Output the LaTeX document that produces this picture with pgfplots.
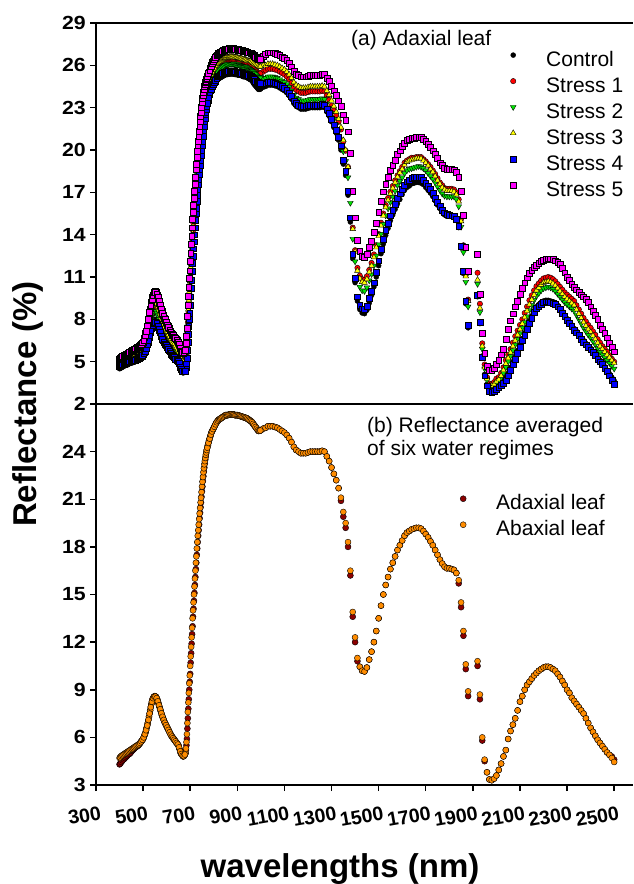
\documentclass[border=0pt]{standalone}
\usepackage{pgfplots}
\pgfplotsset{compat=1.18}
\usepackage{pgfplotstable}
\usepackage{fontspec}
\setmainfont{Liberation Sans}
\newfontfamily\tickfont[FakeStretch=1.12]{Liberation Sans Bold}
\newfontfamily\xtickfont{Liberation Sans Bold}
\newfontfamily\labfont{Liberation Sans Bold}
\definecolor{cRed}{RGB}{255,0,0}
\definecolor{cGreen}{RGB}{0,230,0}
\definecolor{cYellow}{RGB}{255,255,0}
\definecolor{cBlue}{RGB}{0,0,255}
\definecolor{cMag}{RGB}{255,0,255}
\definecolor{cDark}{RGB}{139,0,0}
\definecolor{cOrange}{RGB}{255,140,0}

\pgfplotstableread{
wl C S1 S2 S3 S4 S5
400 4.5 4.9 4.7 5.0 4.7 5.2
405 4.55 4.95 4.75 5.05 4.75 5.3
410 4.6 5.0 4.8 5.1 4.8 5.35
415 4.65 5.05 4.85 5.15 4.85 5.4
420 4.7 5.1 4.9 5.2 4.9 5.45
425 4.75 5.15 4.95 5.25 4.9 5.5
430 4.75 5.2 5.0 5.3 4.95 5.55
435 4.8 5.25 5.05 5.35 5.0 5.6
440 4.85 5.3 5.05 5.4 5.0 5.65
445 4.9 5.35 5.1 5.45 5.0 5.7
450 4.9 5.4 5.15 5.5 5.05 5.75
455 4.95 5.45 5.2 5.55 5.1 5.8
460 4.95 5.5 5.25 5.6 5.1 5.85
465 5.0 5.55 5.3 5.65 5.1 5.9
470 5.05 5.6 5.3 5.7 5.15 5.95
475 5.1 5.6 5.35 5.75 5.2 6.0
480 5.1 5.65 5.4 5.75 5.25 6.05
485 5.2 5.75 5.45 5.8 5.3 6.1
490 5.25 5.8 5.5 5.9 5.35 6.2
495 5.3 5.9 5.6 6.0 5.4 6.3
500 5.4 6.0 5.7 6.1 5.5 6.4
505 5.6 6.2 5.9 6.35 5.65 6.7
510 5.8 6.45 6.15 6.6 5.8 7.0
515 6.05 6.75 6.45 6.95 6.05 7.35
520 6.35 7.1 6.8 7.3 6.35 7.75
525 6.75 7.55 7.2 7.75 6.7 8.25
530 7.15 8.0 7.6 8.2 7.05 8.75
535 7.5 8.4 8.0 8.6 7.4 9.2
540 7.8 8.75 8.35 9.0 7.7 9.6
545 7.95 8.9 8.5 9.2 7.8 9.85
550 8.0 9.0 8.6 9.3 7.8 10.0
555 7.95 8.95 8.55 9.2 7.75 9.9
560 7.85 8.8 8.4 9.05 7.65 9.7
565 7.65 8.55 8.15 8.8 7.45 9.45
570 7.4 8.25 7.9 8.5 7.2 9.15
575 7.15 8.0 7.65 8.25 6.95 8.85
580 6.9 7.75 7.4 8.0 6.7 8.55
585 6.7 7.5 7.2 7.75 6.5 8.3
590 6.55 7.3 7.0 7.55 6.35 8.1
595 6.4 7.15 6.85 7.4 6.2 7.9
600 6.3 7.0 6.7 7.2 6.1 7.7
605 6.1 6.8 6.5 7.0 5.95 7.5
610 5.95 6.65 6.35 6.85 5.8 7.35
615 5.8 6.5 6.2 6.7 5.7 7.2
620 5.65 6.3 6.05 6.5 5.55 7.05
625 5.5 6.2 5.9 6.4 5.45 6.9
630 5.4 6.1 5.8 6.3 5.35 6.8
635 5.3 5.95 5.7 6.2 5.25 6.7
640 5.2 5.85 5.6 6.05 5.15 6.6
645 5.1 5.75 5.5 5.95 5.1 6.5
650 4.95 5.6 5.35 5.8 5.0 6.35
655 4.7 5.35 5.1 5.55 4.75 6.1
660 4.4 5.05 4.8 5.25 4.5 5.8
665 4.3 4.9 4.7 5.1 4.4 5.7
670 4.2 4.8 4.6 5.0 4.3 5.6
675 4.3 4.85 4.65 5.05 4.3 5.7
680 4.5 5.0 4.8 5.2 4.4 5.9
682 4.7 5.35 5.1 5.55 4.6 6.3
684 5.05 5.8 5.55 6.0 4.85 6.8
686 5.45 6.3 6.05 6.6 5.25 7.4
688 6.1 7.05 6.8 7.35 5.8 8.2
690 6.7 7.8 7.5 8.1 6.4 9.0
692 7.3 8.4 8.1 8.7 6.95 9.65
694 7.85 9.05 8.75 9.35 7.5 10.3
696 8.45 9.65 9.35 9.95 8.0 10.9
698 8.9 10.2 9.9 10.5 8.45 11.45
700 9.5 10.8 10.5 11.1 9.0 12.1
702 10.1 11.4 11.1 11.7 9.6 12.7
704 10.7 12.0 11.7 12.3 10.2 13.3
706 11.3 12.6 12.3 12.9 10.8 13.9
708 11.9 13.2 12.9 13.5 11.4 14.5
710 12.5 13.8 13.5 14.1 12.0 15.1
712 13.0 14.3 14.0 14.6 12.5 15.6
714 13.5 14.8 14.5 15.1 13.0 16.1
716 14.0 15.3 15.0 15.6 13.5 16.6
718 14.5 15.8 15.5 16.1 14.0 17.1
720 15.0 16.3 16.0 16.6 14.5 17.6
722 15.5 16.8 16.5 17.1 15.0 18.1
724 16.0 17.3 17.0 17.6 15.5 18.6
726 16.4 17.7 17.4 18.0 15.9 19.0
728 16.9 18.2 17.9 18.5 16.4 19.5
730 17.3 18.6 18.3 18.9 16.8 19.9
732 17.7 19.0 18.7 19.3 17.2 20.3
734 18.05 19.35 19.05 19.65 17.55 20.65
736 18.4 19.7 19.4 20.0 17.9 21.0
738 18.75 20.05 19.75 20.35 18.25 21.35
740 19.1 20.4 20.1 20.7 18.6 21.7
742 19.45 20.75 20.45 21.05 18.95 22.05
744 19.8 21.1 20.8 21.4 19.3 22.4
746 20.1 21.4 21.1 21.7 19.6 22.7
748 20.45 21.75 21.45 22.05 19.95 23.05
750 20.8 22.1 21.8 22.4 20.3 23.4
752 21.1 22.4 22.1 22.7 20.65 23.65
754 21.4 22.65 22.35 22.95 21.0 23.9
756 21.7 22.95 22.65 23.25 21.4 24.1
758 21.95 23.15 22.85 23.45 21.7 24.3
760 22.2 23.4 23.1 23.7 22.0 24.5
762 22.4 23.6 23.3 23.85 22.25 24.65
764 22.6 23.75 23.45 24.0 22.5 24.8
766 22.8 23.95 23.65 24.2 22.7 24.9
768 22.95 24.05 23.75 24.3 22.9 25.0
770 23.1 24.2 23.9 24.4 23.1 25.1
775 23.45 24.45 24.2 24.7 23.5 25.35
780 23.75 24.75 24.45 24.95 23.95 25.55
785 24.0 25.0 24.7 25.2 24.2 25.8
790 24.25 25.25 24.95 25.45 24.45 26.05
795 24.4 25.4 25.1 25.6 24.6 26.2
800 24.55 25.55 25.25 25.75 24.75 26.35
805 24.7 25.7 25.4 25.9 24.9 26.5
810 24.85 25.85 25.55 26.05 25.05 26.65
815 24.95 25.95 25.65 26.15 25.15 26.75
820 25.05 26.05 25.75 26.25 25.25 26.85
825 25.1 26.1 25.8 26.3 25.3 26.9
830 25.15 26.15 25.85 26.35 25.35 26.95
835 25.2 26.2 25.9 26.4 25.4 27.0
840 25.25 26.25 25.95 26.45 25.45 27.05
845 25.3 26.3 26.0 26.5 25.5 27.1
850 25.35 26.35 26.05 26.55 25.55 27.15
855 25.35 26.35 26.05 26.55 25.55 27.15
860 25.35 26.35 26.05 26.55 25.55 27.15
865 25.4 26.4 26.1 26.6 25.6 27.2
870 25.4 26.4 26.1 26.6 25.6 27.2
875 25.4 26.4 26.1 26.6 25.6 27.2
880 25.4 26.4 26.1 26.6 25.6 27.2
885 25.4 26.4 26.1 26.6 25.6 27.2
890 25.35 26.35 26.05 26.55 25.55 27.15
895 25.35 26.35 26.05 26.55 25.55 27.15
900 25.35 26.35 26.05 26.55 25.55 27.15
905 25.3 26.3 26.05 26.5 25.5 27.1
910 25.3 26.3 26.0 26.5 25.5 27.1
915 25.3 26.3 25.95 26.5 25.5 27.1
920 25.25 26.25 25.95 26.45 25.45 27.05
925 25.2 26.2 25.9 26.4 25.4 27.0
930 25.2 26.2 25.9 26.4 25.4 27.0
935 25.2 26.2 25.9 26.4 25.4 27.0
940 25.15 26.15 25.85 26.35 25.35 26.95
945 25.1 26.1 25.8 26.3 25.3 26.9
950 25.05 26.05 25.75 26.3 25.3 26.9
955 25.0 26.0 25.7 26.3 25.25 26.9
960 24.95 25.95 25.65 26.3 25.2 26.85
965 24.85 25.85 25.55 26.2 25.1 26.8
970 24.7 25.8 25.5 26.15 25.05 26.7
975 24.6 25.7 25.4 26.1 24.95 26.6
980 24.5 25.6 25.3 26.05 24.85 26.55
985 24.4 25.5 25.2 26.0 24.8 26.5
990 24.3 25.4 25.1 25.9 24.7 26.4
995 24.3 25.4 25.1 25.9 24.7 26.4
1000 24.35 25.45 25.15 25.95 24.75 26.45
1010 24.45 25.55 25.1 26.0 24.75 26.65
1020 24.5 25.65 25.1 26.0 24.7 26.8
1030 24.6 25.75 25.2 26.1 24.8 26.9
1040 24.6 25.75 25.2 26.1 24.8 26.9
1050 24.6 25.75 25.2 26.1 24.8 26.9
1060 24.55 25.7 25.15 26.05 24.75 26.85
1070 24.5 25.65 25.1 26.0 24.7 26.8
1080 24.4 25.55 25.0 25.9 24.6 26.7
1090 24.3 25.45 24.9 25.8 24.5 26.6
1100 24.2 25.35 24.8 25.7 24.4 26.5
1110 24.05 25.2 24.65 25.55 24.25 26.35
1120 23.85 25.0 24.45 25.35 24.05 26.15
1130 23.6 24.75 24.2 25.1 23.8 25.9
1140 23.3 24.45 23.9 24.8 23.5 25.6
1150 23.1 24.25 23.7 24.6 23.3 25.4
1160 23.0 24.15 23.6 24.5 23.2 25.3
1170 22.9 24.05 23.5 24.4 23.1 25.2
1180 22.9 24.05 23.5 24.4 23.1 25.2
1190 22.9 24.05 23.5 24.4 23.1 25.2
1200 22.95 24.1 23.55 24.45 23.15 25.25
1210 23.0 24.15 23.6 24.5 23.2 25.3
1220 23.0 24.15 23.6 24.5 23.2 25.3
1230 23.0 24.15 23.6 24.5 23.2 25.3
1240 23.0 24.15 23.6 24.5 23.2 25.3
1250 23.0 24.15 23.6 24.5 23.2 25.3
1260 23.05 24.2 23.65 24.55 23.25 25.35
1270 23.0 24.15 23.6 24.5 23.2 25.35
1280 22.7 23.85 23.3 24.2 22.9 25.1
1290 22.4 23.55 23.0 23.9 22.6 24.85
1300 22.0 23.15 22.6 23.5 22.2 24.5
1310 21.6 22.8 22.2 23.1 21.8 24.2
1320 21.2 22.45 21.8 22.7 21.4 23.9
1330 20.7 22.0 21.35 22.2 20.9 23.5
1340 20.0 21.45 20.75 21.6 20.3 23.1
1350 19.0 20.6 19.9 20.7 19.3 22.5
1360 18.2 19.95 19.2 20.0 18.5 22.1
1370 16.8 18.8 18.05 18.8 17.1 21.3
1380 14.9 17.05 16.25 17.0 15.2 19.8
1390 12.3 14.5 13.7 14.4 12.6 17.1
1400 10.6 12.9 12.1 12.8 10.9 15.2
1410 9.3 11.65 10.85 11.45 9.6 13.6
1420 8.7 11.1 10.3 10.9 9.0 12.85
1430 8.45 10.85 10.05 10.65 8.75 12.5
1440 8.4 10.8 10.0 10.6 8.7 12.4
1450 8.65 11.05 10.25 10.85 8.95 12.6
1460 9.15 11.5 10.75 11.35 9.5 13.1
1470 9.7 12.0 11.2 11.8 10.0 13.55
1480 10.3 12.6 11.8 12.4 10.6 14.15
1490 11.0 13.25 12.5 13.1 11.35 14.8
1500 11.8 14.05 13.3 13.9 12.15 15.6
1510 12.65 14.85 14.05 14.65 12.95 16.35
1520 13.35 15.5 14.75 15.35 13.7 17.05
1530 13.95 16.1 15.35 15.95 14.3 17.6
1540 14.45 16.6 15.85 16.45 14.8 18.1
1550 15.0 17.05 16.3 16.9 15.35 18.55
1560 15.4 17.45 16.7 17.3 15.75 18.95
1570 15.8 17.85 17.1 17.7 16.15 19.3
1580 16.2 18.2 17.5 18.1 16.6 19.7
1590 16.5 18.5 17.8 18.4 16.9 19.95
1600 16.85 18.8 18.05 18.65 17.2 20.25
1610 17.15 19.1 18.35 18.95 17.5 20.5
1620 17.35 19.25 18.55 19.15 17.75 20.7
1630 17.45 19.35 18.65 19.25 17.85 20.75
1640 17.6 19.45 18.7 19.3 18.0 20.85
1650 17.65 19.45 18.75 19.35 18.05 20.85
1660 17.7 19.5 18.8 19.4 18.1 20.9
1670 17.7 19.5 18.85 19.4 18.1 20.9
1680 17.65 19.5 18.8 19.4 18.05 20.9
1690 17.55 19.35 18.7 19.25 17.85 20.75
1700 17.35 19.2 18.55 19.1 17.65 20.6
1710 17.15 19.0 18.35 18.9 17.45 20.4
1720 16.95 18.8 18.15 18.65 17.2 20.2
1730 16.7 18.55 17.95 18.45 16.95 19.95
1740 16.4 18.3 17.7 18.15 16.6 19.7
1750 16.1 18.0 17.4 17.85 16.3 19.4
1760 15.85 17.7 17.15 17.6 16.0 19.1
1770 15.6 17.5 16.9 17.35 15.75 18.9
1780 15.4 17.3 16.75 17.2 15.55 18.7
1790 15.3 17.25 16.7 17.1 15.45 18.65
1800 15.3 17.25 16.7 17.1 15.4 18.65
1810 15.3 17.25 16.7 17.1 15.35 18.65
1820 15.25 17.2 16.7 17.05 15.3 18.6
1830 15.0 17.0 16.5 16.85 15.1 18.45
1840 14.5 16.5 16.0 16.35 14.6 18.1
1850 13.1 15.1 14.55 14.95 13.2 17.1
1860 11.25 13.25 12.75 13.15 11.4 15.4
1870 9.1 11.15 10.65 11.05 9.3 13.1
1880 7.4 9.4 8.9 9.3 7.6 11.4
1920 9.6 11.3 10.5 10.8 9.7 12.6
1930 7.7 9.1 8.5 8.8 7.8 9.8
1940 5.4 6.3 5.9 6.1 5.3 7.0
1950 4.1 4.8 4.5 4.6 4.0 5.6
1960 3.4 3.9 3.7 3.8 3.3 4.7
1970 3.0 3.45 3.2 3.3 2.9 4.4
1980 2.95 3.4 3.15 3.3 2.85 4.4
1990 3.0 3.55 3.3 3.4 2.9 4.55
2000 3.1 3.8 3.5 3.6 3.05 4.8
2010 3.3 3.9 3.6 3.75 3.2 5.1
2020 3.5 4.2 3.85 4.0 3.35 5.5
2030 3.7 4.6 4.2 4.4 3.5 5.9
2040 3.9 5.1 4.6 4.85 3.7 6.6
2050 4.2 5.5 5.0 5.25 4.0 7.3
2060 4.6 5.9 5.4 5.65 4.4 7.9
2070 5.0 6.35 5.8 6.1 4.8 8.4
2080 5.35 6.8 6.2 6.5 5.15 8.9
2090 5.8 7.2 6.6 6.9 5.6 9.3
2100 6.2 7.6 7.0 7.3 6.0 9.8
2110 6.65 8.0 7.4 7.7 6.5 10.2
2120 7.05 8.45 7.8 8.15 6.9 10.6
2130 7.45 8.9 8.2 8.6 7.3 10.95
2140 7.9 9.35 8.65 9.05 7.75 11.25
2150 8.25 9.7 9.0 9.4 8.1 11.5
2160 8.6 10.05 9.35 9.75 8.5 11.7
2170 8.9 10.35 9.65 10.05 8.8 11.85
2180 9.05 10.55 9.85 10.25 8.95 12.0
2190 9.2 10.75 10.05 10.45 9.1 12.1
2200 9.3 10.9 10.2 10.6 9.2 12.2
2210 9.35 10.95 10.25 10.65 9.25 12.25
2220 9.35 11.0 10.3 10.7 9.25 12.3
2230 9.3 10.95 10.25 10.65 9.2 12.3
2240 9.25 10.85 10.15 10.55 9.15 12.25
2250 9.15 10.7 10.0 10.4 9.05 12.15
2260 9.0 10.5 9.8 10.2 8.9 12.05
2270 8.8 10.3 9.6 10.0 8.7 11.9
2280 8.55 10.1 9.4 9.8 8.45 11.6
2290 8.3 9.9 9.2 9.6 8.2 11.3
2300 8.05 9.75 9.05 9.45 7.95 11.0
2310 7.8 9.6 8.9 9.3 7.7 10.75
2320 7.6 9.45 8.75 9.15 7.5 10.5
2330 7.35 9.3 8.6 9.0 7.25 10.3
2340 7.15 9.0 8.3 8.7 7.05 10.1
2350 6.95 8.7 8.0 8.4 6.85 9.9
2360 6.7 8.4 7.7 8.1 6.6 9.75
2370 6.5 8.1 7.4 7.8 6.4 9.6
2380 6.3 7.85 7.15 7.55 6.2 9.45
2390 6.1 7.6 6.9 7.3 6.0 9.2
2400 5.95 7.4 6.7 7.1 5.85 8.9
2410 5.75 7.15 6.45 6.85 5.65 8.6
2420 5.55 6.9 6.2 6.6 5.45 8.3
2430 5.3 6.6 5.95 6.35 5.2 8.0
2440 5.1 6.35 5.7 6.1 5.0 7.6
2450 4.9 6.1 5.5 5.9 4.8 7.3
2460 4.65 5.9 5.3 5.7 4.55 7.0
2470 4.4 5.7 5.1 5.5 4.3 6.7
2480 4.15 5.45 4.9 5.3 4.0 6.3
2490 3.9 5.2 4.7 5.1 3.7 6.0
2500 3.65 5.0 4.5 4.9 3.4 5.7
402.5 4.52 4.92 4.72 5.02 4.72 5.25
407.5 4.57 4.97 4.77 5.07 4.77 5.32
412.5 4.62 5.02 4.82 5.12 4.82 5.37
417.5 4.67 5.07 4.87 5.17 4.87 5.42
422.5 4.72 5.12 4.92 5.22 4.9 5.47
427.5 4.75 5.17 4.97 5.27 4.92 5.52
432.5 4.77 5.22 5.02 5.32 4.97 5.57
437.5 4.82 5.27 5.05 5.37 5.0 5.62
442.5 4.87 5.32 5.07 5.42 5.0 5.67
447.5 4.9 5.37 5.12 5.47 5.02 5.72
452.5 4.92 5.42 5.17 5.52 5.07 5.77
457.5 4.95 5.47 5.22 5.57 5.1 5.82
462.5 4.97 5.52 5.27 5.62 5.1 5.87
467.5 5.02 5.57 5.3 5.67 5.12 5.92
472.5 5.07 5.6 5.32 5.72 5.17 5.97
477.5 5.1 5.62 5.37 5.75 5.22 6.02
482.5 5.15 5.7 5.42 5.77 5.27 6.07
487.5 5.22 5.77 5.47 5.85 5.32 6.15
492.5 5.27 5.85 5.55 5.95 5.37 6.25
497.5 5.35 5.95 5.65 6.05 5.45 6.35
502.5 5.5 6.1 5.8 6.22 5.57 6.55
507.5 5.7 6.32 6.02 6.47 5.72 6.85
512.5 5.92 6.6 6.3 6.77 5.92 7.17
517.5 6.2 6.92 6.62 7.12 6.2 7.55
522.5 6.55 7.32 7.0 7.52 6.52 8.0
527.5 6.95 7.77 7.4 7.97 6.87 8.5
532.5 7.32 8.2 7.8 8.4 7.22 8.97
537.5 7.65 8.57 8.17 8.8 7.55 9.4
542.5 7.87 8.82 8.42 9.1 7.75 9.72
547.5 7.97 8.95 8.55 9.25 7.8 9.92
552.5 7.97 8.97 8.57 9.25 7.77 9.95
557.5 7.9 8.87 8.47 9.12 7.7 9.8
562.5 7.75 8.67 8.27 8.92 7.55 9.57
567.5 7.52 8.4 8.02 8.65 7.32 9.3
572.5 7.27 8.12 7.77 8.37 7.07 9.0
577.5 7.02 7.87 7.52 8.12 6.82 8.7
582.5 6.8 7.62 7.3 7.87 6.6 8.42
587.5 6.62 7.4 7.1 7.65 6.42 8.2
592.5 6.47 7.22 6.92 7.47 6.27 8.0
597.5 6.35 7.07 6.77 7.3 6.15 7.8
602.5 6.2 6.9 6.6 7.1 6.02 7.6
607.5 6.02 6.72 6.42 6.92 5.87 7.42
612.5 5.87 6.57 6.27 6.77 5.75 7.27
617.5 5.72 6.4 6.12 6.6 5.62 7.12
622.5 5.57 6.25 5.97 6.45 5.5 6.97
627.5 5.45 6.15 5.85 6.35 5.4 6.85
632.5 5.35 6.02 5.75 6.25 5.3 6.75
637.5 5.25 5.9 5.65 6.12 5.2 6.65
642.5 5.15 5.8 5.55 6.0 5.12 6.55
647.5 5.02 5.67 5.42 5.87 5.05 6.42
652.5 4.82 5.47 5.22 5.67 4.87 6.22
657.5 4.55 5.2 4.95 5.4 4.62 5.95
662.5 4.35 4.97 4.75 5.17 4.45 5.75
667.5 4.25 4.85 4.65 5.05 4.35 5.65
672.5 4.25 4.82 4.62 5.02 4.3 5.65
677.5 4.4 4.92 4.72 5.12 4.35 5.8
772.5 23.27 24.32 24.05 24.55 23.3 25.22
777.5 23.6 24.6 24.32 24.82 23.72 25.45
782.5 23.87 24.87 24.57 25.07 24.07 25.67
787.5 24.12 25.12 24.82 25.32 24.32 25.92
792.5 24.32 25.32 25.02 25.52 24.52 26.12
797.5 24.47 25.47 25.17 25.67 24.67 26.27
802.5 24.62 25.62 25.32 25.82 24.82 26.42
807.5 24.77 25.77 25.47 25.97 24.97 26.57
812.5 24.9 25.9 25.6 26.1 25.1 26.7
817.5 25.0 26.0 25.7 26.2 25.2 26.8
822.5 25.07 26.07 25.77 26.27 25.27 26.87
827.5 25.12 26.12 25.82 26.32 25.32 26.92
832.5 25.17 26.17 25.87 26.37 25.37 26.97
837.5 25.22 26.22 25.92 26.42 25.42 27.02
842.5 25.27 26.27 25.97 26.47 25.47 27.07
847.5 25.32 26.32 26.02 26.52 25.52 27.12
852.5 25.35 26.35 26.05 26.55 25.55 27.15
857.5 25.35 26.35 26.05 26.55 25.55 27.15
862.5 25.37 26.37 26.07 26.57 25.57 27.17
867.5 25.4 26.4 26.1 26.6 25.6 27.2
872.5 25.4 26.4 26.1 26.6 25.6 27.2
877.5 25.4 26.4 26.1 26.6 25.6 27.2
882.5 25.4 26.4 26.1 26.6 25.6 27.2
887.5 25.37 26.37 26.07 26.57 25.57 27.17
892.5 25.35 26.35 26.05 26.55 25.55 27.15
897.5 25.35 26.35 26.05 26.55 25.55 27.15
902.5 25.32 26.32 26.05 26.52 25.52 27.12
907.5 25.3 26.3 26.02 26.5 25.5 27.1
912.5 25.3 26.3 25.97 26.5 25.5 27.1
917.5 25.27 26.27 25.95 26.47 25.47 27.07
922.5 25.22 26.22 25.92 26.42 25.42 27.02
927.5 25.2 26.2 25.9 26.4 25.4 27.0
932.5 25.2 26.2 25.9 26.4 25.4 27.0
937.5 25.17 26.17 25.87 26.37 25.37 26.97
942.5 25.12 26.12 25.82 26.32 25.32 26.92
947.5 25.07 26.07 25.77 26.3 25.3 26.9
952.5 25.02 26.02 25.72 26.3 25.27 26.9
957.5 24.97 25.97 25.67 26.3 25.22 26.87
962.5 24.9 25.9 25.6 26.25 25.15 26.82
967.5 24.77 25.82 25.52 26.17 25.07 26.75
972.5 24.65 25.75 25.45 26.12 25.0 26.65
977.5 24.55 25.65 25.35 26.07 24.9 26.57
982.5 24.45 25.55 25.25 26.02 24.82 26.52
987.5 24.35 25.45 25.15 25.95 24.75 26.45
992.5 24.3 25.4 25.1 25.9 24.7 26.4
997.5 24.32 25.42 25.12 25.92 24.72 26.42
}\toptab

\pgfplotstableread{
wl Ad Ab
400 4.3 4.7
405 4.4 4.8
410 4.5 4.85
415 4.6 4.9
420 4.65 4.95
425 4.75 5.0
430 4.8 5.05
435 4.9 5.1
440 4.95 5.15
445 5.0 5.2
450 5.1 5.25
455 5.2 5.3
460 5.25 5.35
465 5.35 5.4
470 5.4 5.45
475 5.45 5.5
480 5.5 5.55
485 5.6 5.6
490 5.7 5.7
495 5.8 5.8
500 5.9 5.9
505 6.1 6.1
510 6.3 6.3
515 6.6 6.6
520 6.9 6.9
525 7.3 7.3
530 7.7 7.7
535 8.1 8.1
540 8.4 8.4
545 8.55 8.55
550 8.6 8.6
555 8.55 8.55
560 8.4 8.4
565 8.15 8.15
570 7.9 7.9
575 7.65 7.65
580 7.4 7.4
585 7.2 7.2
590 7.0 7.0
595 6.85 6.85
600 6.7 6.7
605 6.55 6.55
610 6.4 6.4
615 6.25 6.25
620 6.1 6.1
625 6.0 6.0
630 5.9 5.9
635 5.8 5.8
640 5.7 5.7
645 5.6 5.6
650 5.5 5.5
655 5.25 5.25
660 5.0 5.0
665 4.9 4.9
670 4.8 4.8
675 4.85 4.85
680 5.0 5.0
682 5.2 5.3
684 5.5 5.7
686 5.9 6.2
688 6.55 6.9
690 7.2 7.6
692 7.8 8.2
694 8.4 8.8
696 9.0 9.4
698 9.5 9.9
700 10.0 10.5
702 10.7 11.1
704 11.3 11.7
706 11.9 12.3
708 12.5 12.9
710 13.0 13.5
712 13.6 14.0
714 14.1 14.5
716 14.6 15.0
718 15.1 15.5
720 15.6 16.0
722 16.1 16.5
724 16.6 17.0
726 17.0 17.4
728 17.5 17.9
730 17.9 18.3
732 18.3 18.7
734 18.7 19.05
736 19.05 19.4
738 19.4 19.75
740 19.8 20.1
742 20.15 20.45
744 20.5 20.8
746 20.8 21.1
748 21.15 21.45
750 21.5 21.8
752 21.8 22.1
754 22.15 22.4
756 22.45 22.7
758 22.75 22.95
760 23.0 23.2
762 23.25 23.4
764 23.5 23.6
766 23.7 23.8
768 23.9 23.95
770 24.1 24.1
775 24.4 24.4
780 24.7 24.7
785 24.95 24.95
790 25.2 25.2
795 25.35 25.35
800 25.5 25.5
805 25.65 25.65
810 25.8 25.8
815 25.9 25.9
820 26.0 26.0
825 26.05 26.05
830 26.1 26.1
835 26.15 26.15
840 26.2 26.2
845 26.25 26.25
850 26.3 26.3
855 26.3 26.3
860 26.3 26.3
865 26.33 26.33
870 26.35 26.35
875 26.35 26.35
880 26.35 26.35
885 26.33 26.33
890 26.3 26.3
895 26.3 26.3
900 26.3 26.3
905 26.28 26.28
910 26.25 26.25
915 26.23 26.23
920 26.2 26.2
925 26.18 26.18
930 26.15 26.15
935 26.13 26.13
940 26.1 26.1
945 26.05 26.05
950 26.0 26.0
955 25.95 25.95
960 25.9 25.9
965 25.8 25.8
970 25.7 25.7
975 25.6 25.6
980 25.5 25.5
985 25.4 25.4
990 25.3 25.3
995 25.32 25.32
1000 25.35 25.35
1010 25.45 25.45
1020 25.5 25.5
1030 25.6 25.6
1040 25.6 25.6
1050 25.6 25.6
1060 25.55 25.55
1070 25.5 25.5
1080 25.4 25.4
1090 25.3 25.3
1100 25.2 25.2
1110 25.05 25.05
1120 24.85 24.85
1130 24.6 24.6
1140 24.3 24.3
1150 24.1 24.1
1160 24.0 24.0
1170 23.9 23.9
1180 23.9 23.9
1190 23.9 23.9
1200 23.95 23.95
1210 24.0 24.0
1220 24.0 24.0
1230 24.0 24.0
1240 24.0 24.0
1250 24.0 24.0
1260 24.05 24.05
1270 24.0 24.0
1280 23.7 23.7
1290 23.4 23.4
1300 23.0 23.0
1310 22.6 22.6
1320 22.2 22.2
1330 21.7 21.7
1340 20.9 21.1
1350 19.9 20.2
1360 19.2 19.5
1370 18.0 18.3
1380 16.2 16.5
1390 13.6 13.9
1400 12.0 12.3
1410 10.8 11.0
1420 10.45 10.45
1430 10.2 10.2
1440 10.15 10.15
1450 10.4 10.4
1460 10.9 10.9
1470 11.4 11.4
1480 12.0 12.0
1490 12.7 12.7
1500 13.5 13.5
1510 14.3 14.3
1520 15.0 15.0
1530 15.6 15.6
1540 16.1 16.1
1550 16.6 16.6
1560 17.0 17.0
1570 17.4 17.4
1580 17.8 17.8
1590 18.1 18.1
1600 18.4 18.4
1610 18.7 18.7
1620 18.9 18.9
1630 19.0 19.0
1640 19.1 19.1
1650 19.15 19.15
1660 19.2 19.2
1670 19.2 19.2
1680 19.15 19.15
1690 19.0 19.0
1700 18.8 18.8
1710 18.6 18.6
1720 18.35 18.35
1730 18.1 18.1
1740 17.8 17.8
1750 17.5 17.5
1760 17.2 17.2
1770 16.95 16.95
1780 16.75 16.75
1790 16.65 16.65
1800 16.65 16.65
1810 16.6 16.6
1820 16.55 16.55
1830 16.35 16.35
1840 15.7 15.9
1850 14.2 14.5
1860 12.4 12.7
1870 10.3 10.6
1880 8.6 8.9
1920 10.5 10.8
1930 8.4 8.7
1940 5.8 6.0
1950 4.5 4.6
1960 3.8 3.8
1970 3.35 3.35
1980 3.3 3.3
1990 3.4 3.4
2000 3.6 3.6
2010 3.95 3.95
2020 4.35 4.35
2030 4.8 4.8
2040 5.2 5.2
2050 5.9 5.9
2060 6.4 6.4
2070 6.8 6.8
2080 7.2 7.2
2090 7.7 7.7
2100 8.25 8.25
2110 8.6 8.6
2120 9.0 9.0
2130 9.3 9.3
2140 9.5 9.5
2150 9.7 9.7
2160 9.9 9.9
2170 10.05 10.05
2180 10.2 10.2
2190 10.3 10.3
2200 10.4 10.4
2210 10.45 10.45
2220 10.45 10.45
2230 10.4 10.4
2240 10.3 10.3
2250 10.2 10.2
2260 10.0 10.0
2270 9.8 9.8
2280 9.55 9.55
2290 9.3 9.3
2300 9.0 9.0
2310 8.8 8.8
2320 8.5 8.5
2330 8.3 8.3
2340 8.1 8.1
2350 7.9 7.9
2360 7.7 7.7
2370 7.5 7.5
2380 7.2 7.2
2390 6.9 6.9
2400 6.6 6.6
2410 6.35 6.35
2420 6.1 6.1
2430 5.85 5.85
2440 5.65 5.65
2450 5.45 5.45
2460 5.25 5.25
2470 5.05 5.05
2480 4.9 4.9
2490 4.8 4.7
2500 4.6 4.45
402.5 4.35 4.75
407.5 4.45 4.82
412.5 4.55 4.87
417.5 4.62 4.92
422.5 4.7 4.97
427.5 4.77 5.02
432.5 4.85 5.07
437.5 4.92 5.12
442.5 4.97 5.17
447.5 5.05 5.22
452.5 5.15 5.27
457.5 5.22 5.32
462.5 5.3 5.37
467.5 5.37 5.42
472.5 5.42 5.47
477.5 5.47 5.52
482.5 5.55 5.57
487.5 5.65 5.65
492.5 5.75 5.75
497.5 5.85 5.85
502.5 6.0 6.0
507.5 6.2 6.2
512.5 6.45 6.45
517.5 6.75 6.75
522.5 7.1 7.1
527.5 7.5 7.5
532.5 7.9 7.9
537.5 8.25 8.25
542.5 8.47 8.47
547.5 8.57 8.57
552.5 8.57 8.57
557.5 8.47 8.47
562.5 8.27 8.27
567.5 8.02 8.02
572.5 7.77 7.77
577.5 7.52 7.52
582.5 7.3 7.3
587.5 7.1 7.1
592.5 6.92 6.92
597.5 6.77 6.77
602.5 6.62 6.62
607.5 6.47 6.47
612.5 6.32 6.32
617.5 6.17 6.17
622.5 6.05 6.05
627.5 5.95 5.95
632.5 5.85 5.85
637.5 5.75 5.75
642.5 5.65 5.65
647.5 5.55 5.55
652.5 5.37 5.37
657.5 5.12 5.12
662.5 4.95 4.95
667.5 4.85 4.85
672.5 4.82 4.82
677.5 4.92 4.92
772.5 24.25 24.25
777.5 24.55 24.55
782.5 24.82 24.82
787.5 25.07 25.07
792.5 25.27 25.27
797.5 25.42 25.42
802.5 25.57 25.57
807.5 25.72 25.72
812.5 25.85 25.85
817.5 25.95 25.95
822.5 26.02 26.02
827.5 26.07 26.07
832.5 26.12 26.12
837.5 26.17 26.17
842.5 26.22 26.22
847.5 26.27 26.27
852.5 26.3 26.3
857.5 26.3 26.3
862.5 26.32 26.32
867.5 26.34 26.34
872.5 26.35 26.35
877.5 26.35 26.35
882.5 26.34 26.34
887.5 26.32 26.32
892.5 26.3 26.3
897.5 26.3 26.3
902.5 26.29 26.29
907.5 26.27 26.27
912.5 26.24 26.24
917.5 26.22 26.22
922.5 26.19 26.19
927.5 26.17 26.17
932.5 26.14 26.14
937.5 26.12 26.12
942.5 26.08 26.08
947.5 26.02 26.02
952.5 25.97 25.97
957.5 25.92 25.92
962.5 25.85 25.85
967.5 25.75 25.75
972.5 25.65 25.65
977.5 25.55 25.55
982.5 25.45 25.45
987.5 25.35 25.35
992.5 25.31 25.31
997.5 25.33 25.33
}\bottab

\begin{document}
\begin{tikzpicture}
\pgfplotsset{
  common/.style={
    scale only axis, width=537pt, height=381pt,
    xmin=300, xmax=2580,
    axis y line*=left,
    axis line style={line width=1.5pt},
    every tick/.style={line width=1.5pt, black},
    tick align=outside, major tick length=6pt,
    ytick pos=left,
    yticklabel style={font=\tickfont\fontsize{19}{22}\selectfont, inner sep=0pt, anchor=east, xshift=-4pt},
    /pgf/number format/assume math mode=true,
    /pgf/number format/1000 sep={},
    clip=false,
    legend cell align=left,
    legend image code/.code={\path[draw=none,fill=none] (-4pt,0pt) -- (33pt,0pt); \draw[##1] plot coordinates {(0pt,6pt)};},
    legend style={draw=none, fill=none, anchor=north west,
      font=\fontsize{21}{25}\selectfont, row sep=6pt, column sep=0pt,
      nodes={inner sep=0pt, text height=15pt, text depth=5pt}},
  },
  mk/.style={only marks, mark options={line width=0.45pt, draw=black}},
}
\begin{axis}[common, at={(96pt,-404pt)}, anchor=south west,
  ymin=2, ymax=29, ytick={2,5,...,29}, xtick=\empty,
  legend style={at={(axis description cs:0.7635,0.932)}}]
\addplot[mk, mark=*, mark size=2.5pt, mark options={fill=black}] table[x=wl, y=C] {\toptab};
\addlegendentry{Control}
\addplot[mk, mark=*, mark size=2.7pt, mark options={fill=cRed}] table[x=wl, y=S1] {\toptab};
\addlegendentry{Stress 1}
\addplot[mk, mark=triangle*, mark size=3.3pt, mark options={fill=cGreen, rotate=180}] table[x=wl, y=S2] {\toptab};
\addlegendentry{Stress 2}
\addplot[mk, mark=triangle*, mark size=3.3pt, mark options={fill=cYellow}] table[x=wl, y=S3] {\toptab};
\addlegendentry{Stress 3}
\addplot[mk, mark=square*, mark size=2.9pt, mark options={fill=cBlue}] table[x=wl, y=S4] {\toptab};
\addlegendentry{Stress 4}
\addplot[mk, mark=square*, mark size=2.9pt, mark options={fill=cMag}] table[x=wl, y=S5] {\toptab};
\addlegendentry{Stress 5}
\end{axis}

\begin{axis}[common, at={(96pt,-785pt)}, anchor=south west,
  ymin=3, ymax=27, ytick={3,6,...,24},
  xtick={300,500,...,2500}, xtick pos=left,
  xticklabel style={font=\xtickfont\fontsize{19.6}{22}\selectfont, rotate=10, anchor=north east, inner sep=0pt, yshift=-15pt, xshift=1pt},
  legend style={at={(axis description cs:0.6704,0.7677)}}]
\addplot[mk, mark=*, mark size=3pt, mark options={fill=cDark}] table[x=wl, y=Ad] {\bottab};
\addlegendentry{Adaxial leaf}
\addplot[mk, mark=*, mark size=3pt, mark options={fill=cOrange}] table[x=wl, y=Ab] {\bottab};
\addlegendentry{Abaxial leaf}
\end{axis}

\node[anchor=base west, font=\fontsize{21}{25}\selectfont, inner sep=0pt] at (351pt,-45.5pt) {(a) Adaxial leaf};
\node[anchor=base west, font=\fontsize{21}{25}\selectfont, inner sep=0pt] at (367pt,-432.5pt) {(b) Reflectance averaged};
\node[anchor=base west, font=\fontsize{21}{25}\selectfont, inner sep=0pt] at (367pt,-455.5pt) {of six water regimes};
\node[anchor=base, rotate=90, font=\labfont\fontsize{33}{38}\selectfont, inner sep=0pt] at (36.5pt,-404pt) {Reflectance (\%)};
\node[anchor=base, font=\labfont\fontsize{33}{38}\selectfont, inner sep=0pt] at (340pt,-877pt) {wavelengths (nm)};
\pgfresetboundingbox
\useasboundingbox (0pt,0pt) rectangle (633pt,-884pt);
\end{tikzpicture}
\end{document}
